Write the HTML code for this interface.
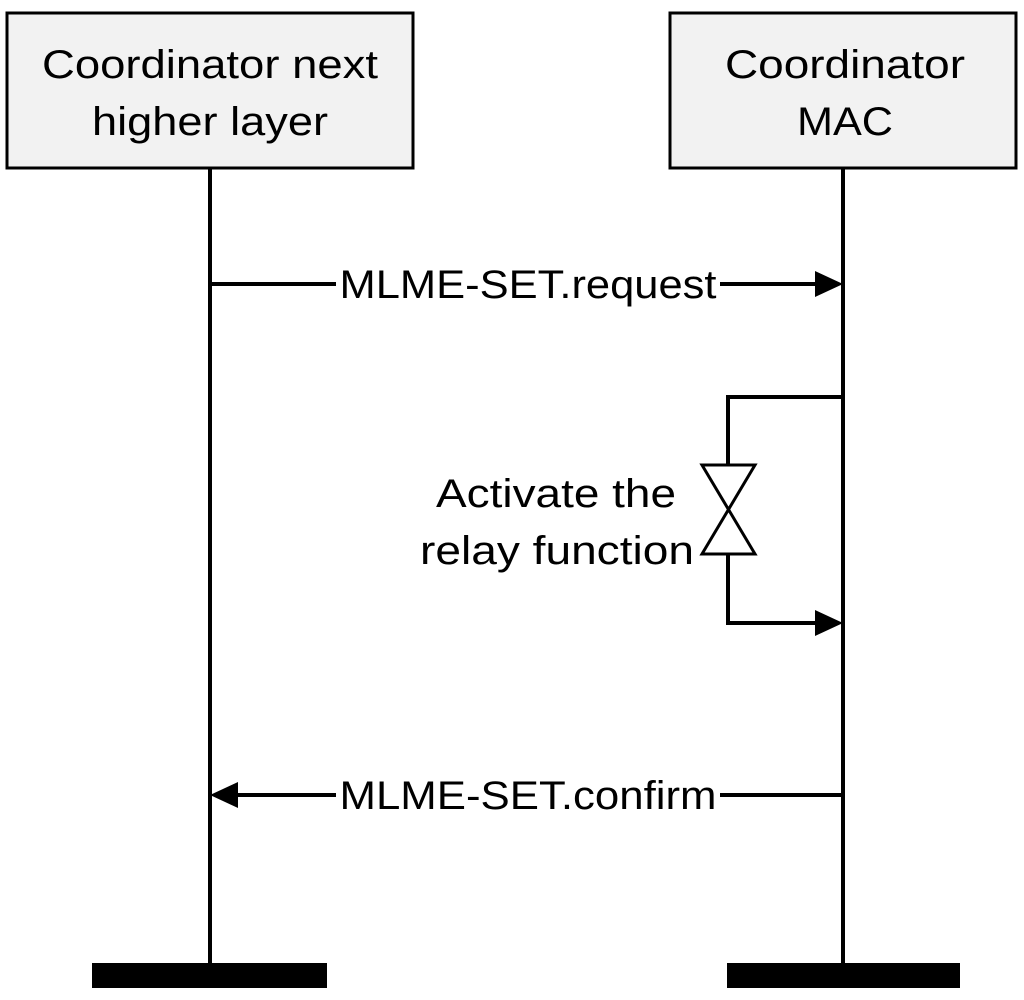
<!DOCTYPE html>
<html><head><meta charset="utf-8"><style>
html,body{margin:0;padding:0;background:#fff;}
svg{display:block;}
text{font-family:"Liberation Sans",sans-serif;fill:#000;}
</style></head><body>
<svg width="1024" height="1000" viewBox="0 0 1024 1000" xmlns="http://www.w3.org/2000/svg">
<rect x="7" y="13" width="406" height="155" fill="#f2f2f2" stroke="#000" stroke-width="3"/>
<rect x="670" y="13" width="346" height="155" fill="#f2f2f2" stroke="#000" stroke-width="3"/>
<text x="210" y="78" font-size="40" text-anchor="middle" textLength="336" lengthAdjust="spacingAndGlyphs">Coordinator next</text>
<text x="210" y="135" font-size="40" text-anchor="middle" textLength="236" lengthAdjust="spacingAndGlyphs">higher layer</text>
<text x="845" y="78" font-size="40" text-anchor="middle" textLength="240" lengthAdjust="spacingAndGlyphs">Coordinator</text>
<text x="845" y="135" font-size="40" text-anchor="middle" textLength="96" lengthAdjust="spacingAndGlyphs">MAC</text>
<line x1="210" y1="168" x2="210" y2="965" stroke="#000" stroke-width="4"/>
<line x1="843" y1="168" x2="843" y2="965" stroke="#000" stroke-width="4"/>
<rect x="92" y="963" width="235" height="25" fill="#000"/>
<rect x="727" y="963" width="233" height="25" fill="#000"/>
<line x1="210" y1="284" x2="818" y2="284" stroke="#000" stroke-width="4"/>
<polygon points="843,284 815,271 815,297" fill="#000"/>
<rect x="336" y="262" width="384" height="44" fill="#fff"/>
<text x="528" y="298" font-size="40" text-anchor="middle" textLength="377" lengthAdjust="spacingAndGlyphs">MLME-SET.request</text>
<polyline points="843,397 728,397 728,465" fill="none" stroke="#000" stroke-width="4"/>
<polyline points="728,554 728,623 818,623" fill="none" stroke="#000" stroke-width="4"/>
<polygon points="843,623 815,610 815,636" fill="#000"/>
<polygon points="702,465 755,465 702,554 755,554" fill="#fff" stroke="#000" stroke-width="3" stroke-linejoin="miter"/>
<text x="556" y="507" font-size="40" text-anchor="middle" textLength="240" lengthAdjust="spacingAndGlyphs">Activate the</text>
<text x="694" y="564" font-size="40" text-anchor="end" textLength="274" lengthAdjust="spacingAndGlyphs">relay function</text>
<line x1="235" y1="795" x2="843" y2="795" stroke="#000" stroke-width="4"/>
<polygon points="210,795 238,782 238,808" fill="#000"/>
<rect x="336" y="773" width="384" height="44" fill="#fff"/>
<text x="528" y="809" font-size="40" text-anchor="middle" textLength="377" lengthAdjust="spacingAndGlyphs">MLME-SET.confirm</text>
</svg>
</body></html>
